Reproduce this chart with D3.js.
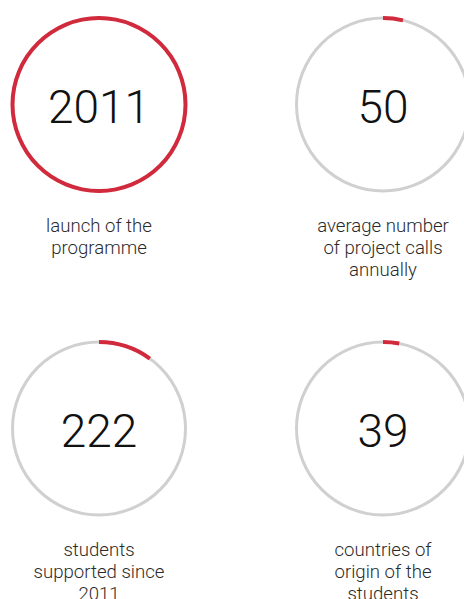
<!DOCTYPE html>
<html>
<head>
<meta charset="utf-8">
<script src="https://cdn.jsdelivr.net/npm/d3@7"></script>
<style>
  body { margin: 0; background: #fff; }
  svg { display: block; }
</style>
</head>
<body>
<div id="chart"></div>
<script>
// figures shown in the circles
const values = ["2011", "50", "222", "39"];
// share of the ring drawn in red
const progress = [1, 0.037, 0.10, 0.03];
const labels = [
    ["launch of the", "programme"],
    ["average number", "of project calls", "annually"],
    ["students", "supported since", "2011"],
    ["countries of", "origin of the", "students"]
];
const cols = [0, 1, 0, 1];
const rows = [0, 0, 1, 1];

const width = 464, height = 599;
const radius = 86.5;

const x = d3.scalePoint().domain([0, 1]).range([99, 383]);
const y = d3.scalePoint().domain([0, 1]).range([104.5, 428.5]);
const angle = d3.scaleLinear().domain([0, 1]).range([0, 2 * Math.PI]);

const svg = d3.select("#chart")
    .append("svg")
    .attr("width", width)
    .attr("height", height);

const arc = d3.arc()
    .innerRadius(radius - 2)
    .outerRadius(radius + 2)
    .startAngle(0);

let items = values.map((v, i) => ({value: v, progress: progress[i], label: labels[i], col: cols[i], row: rows[i]}));

let g = svg.selectAll("g.gauge")
    .data(items)
    .enter()
    .append("g")
    .attr("class", "gauge")
    .attr("transform", (d) => `translate(${x(d.col)},${y(d.row)})`);

// grey track
g.append("circle")
    .attr("r", radius)
    .attr("fill", "none")
    .attr("stroke", "#d0d0d0")
    .attr("stroke-width", 3);

// red part
g.append("path")
    .attr("fill", "#d22a3d")
    .attr("d", (d) => arc({endAngle: angle(d.progress)}));

g.append("text")
    .attr("text-anchor", "middle")
    .attr("y", 18)
    .attr("font-family", "Roboto")
    .attr("font-weight", 300)
    .attr("font-size", 46)
    .attr("fill", "#111")
    .text((d) => d.value);

g.append("text")
    .attr("text-anchor", "middle")
    .attr("font-family", "Roboto")
    .attr("font-weight", 300)
    .attr("font-size", 18.6)
    .attr("fill", "#2a2a2a")
    .selectAll("tspan")
    .data((d) => d.label)
    .enter()
    .append("tspan")
    .attr("x", 0)
    .attr("y", (d, i) => 127.5 + i * 22)
    .text((d) => d);
</script>
</body>
</html>
